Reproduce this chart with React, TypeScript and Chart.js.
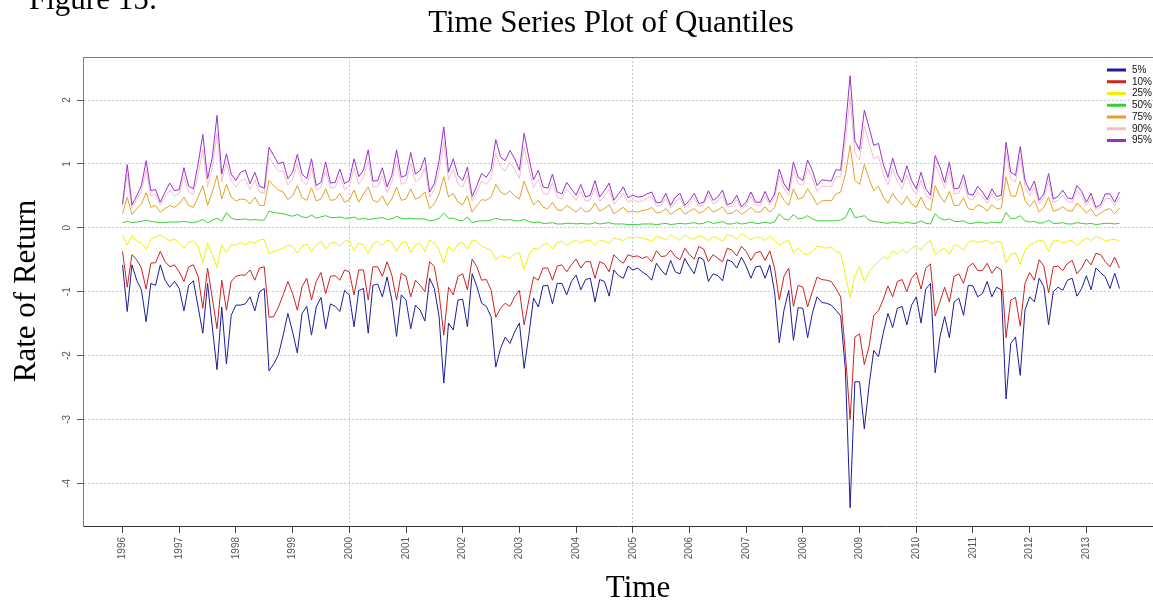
import React, { useEffect, useRef } from "react";
import { Chart, registerables } from "chart.js";

Chart.register(...registerables);

// ---------- data ----------
const START_YEAR = 1996;
const MONTHS_PER_YEAR = 12;
const YEAR_TICKS = [1996, 1997, 1998, 1999, 2000, 2001, 2002, 2003, 2004, 2005, 2006, 2007, 2008, 2009, 2010, 2011, 2012, 2013];
const GRID_YEARS = [2000, 2005, 2010];
const Y_TICKS = [-4, -3, -2, -1, 0, 1, 2];
const SERIES_LABELS = ["5%", "10%", "25%", "50%", "75%", "90%", "95%"];
const SERIES_COLORS = ["#1c1c9a", "#cc2222", "#f0f000", "#36d036", "#e6a024", "#f6bccb", "#9a30cc"];

const P5 = [
  -0.58, -1.31, -0.58, -0.82, -0.97, -1.47, -0.87, -0.9, -0.58, -0.82,
  -0.93, -0.84, -0.95, -1.3, -0.9, -0.83, -1.24, -1.65, -0.87, -1.55,
  -2.22, -1.24, -2.13, -1.37, -1.21, -1.21, -1.19, -1.08, -1.3, -1.0,
  -0.95, -2.24, -2.13, -1.99, -1.68, -1.34, -1.63, -1.96, -1.34, -1.23,
  -1.68, -1.24, -1.09, -1.58, -1.19, -1.23, -1.31, -0.98, -1.05, -1.55,
  -0.98, -0.95, -1.65, -0.9, -0.88, -1.08, -0.77, -1.13, -1.7, -1.05,
  -1.13, -1.58, -1.21, -1.29, -1.46, -0.79, -0.95, -1.39, -2.43, -1.49,
  -1.6, -1.13, -1.12, -1.55, -0.72, -0.92, -1.18, -1.23, -1.39, -2.18,
  -1.89, -1.71, -1.81, -1.63, -1.49, -2.2, -1.68, -1.1, -1.24, -0.91,
  -0.9, -1.19, -0.87, -0.87, -1.05, -0.84, -0.74, -0.97, -0.81, -0.79,
  -1.16, -0.81, -0.84, -1.07, -0.66, -0.75, -0.79, -0.6, -0.66, -0.63,
  -0.69, -0.74, -0.82, -0.555, -0.66, -0.74, -0.51, -0.69, -0.72, -0.48,
  -0.61, -0.72, -0.46, -0.5, -0.84, -0.72, -0.75, -0.83, -0.5, -0.53,
  -0.63, -0.46, -0.6, -0.79, -0.61, -0.6, -0.79, -0.58, -1.0, -1.8,
  -1.29, -0.98, -1.76, -1.25, -1.26, -1.72, -1.34, -1.08, -1.17, -1.18,
  -1.21, -1.29, -1.38, -2.23, -4.38, -2.41, -2.41, -3.15, -2.47, -1.92,
  -2.02, -1.65, -1.34, -1.56, -1.26, -1.23, -1.52, -1.21, -1.08, -1.49,
  -0.96, -0.87, -2.27, -1.71, -1.39, -1.72, -1.16, -1.1, -1.37, -0.9,
  -0.91, -1.08, -1.03, -0.84, -1.08, -0.93, -0.97, -2.68, -1.81, -1.71,
  -2.31, -1.29, -1.08, -1.16, -0.79, -0.92, -1.52, -1.0, -0.93, -0.98,
  -0.82, -0.79, -1.07, -0.95, -0.75, -0.97, -0.63, -0.7, -0.77, -0.95,
  -0.71, -0.95,
];

const P10 = [
  -0.37, -0.93, -0.42, -0.5, -0.63, -0.96, -0.555, -0.545, -0.37, -0.53,
  -0.61, -0.58, -0.69, -0.84, -0.61, -0.58, -0.76, -1.26, -0.63, -1.1,
  -1.58, -0.82, -1.29, -0.84, -0.76, -0.74, -0.74, -0.66, -0.82, -0.63,
  -0.61, -1.4, -1.39, -1.24, -1.05, -0.84, -1.03, -1.29, -0.92, -0.79,
  -1.13, -0.84, -0.7, -1.03, -0.76, -0.75, -0.82, -0.66, -0.69, -1.05,
  -0.66, -0.66, -1.13, -0.61, -0.61, -0.76, -0.53, -0.74, -1.13, -0.71,
  -0.76, -1.08, -0.82, -0.9, -1.0, -0.53, -0.61, -1.03, -1.68, -0.93,
  -1.05, -0.76, -0.72, -0.97, -0.49, -0.61, -0.82, -0.81, -0.97, -1.4,
  -1.26, -1.18, -1.23, -1.08, -0.98, -1.52, -1.13, -0.77, -0.82, -0.63,
  -0.63, -0.82, -0.6, -0.58, -0.69, -0.58, -0.49, -0.63, -0.53, -0.53,
  -0.79, -0.53, -0.565, -0.69, -0.42, -0.5, -0.555, -0.42, -0.45, -0.44,
  -0.48, -0.45, -0.53, -0.36, -0.45, -0.44, -0.35, -0.45, -0.5, -0.32,
  -0.42, -0.49, -0.29, -0.335, -0.53, -0.42, -0.48, -0.53, -0.32, -0.35,
  -0.44, -0.29, -0.37, -0.51, -0.39, -0.37, -0.51, -0.36, -0.63, -1.13,
  -0.76, -0.63, -1.23, -0.9, -0.93, -1.24, -1.0, -0.77, -0.81, -0.82,
  -0.84, -0.95, -1.08, -1.97, -3.0, -1.71, -1.66, -2.14, -1.86, -1.37,
  -1.3, -1.12, -0.91, -1.08, -0.84, -0.81, -1.0, -0.79, -0.7, -0.96,
  -0.63, -0.565, -1.38, -1.16, -0.93, -1.16, -0.76, -0.72, -0.87, -0.61,
  -0.555, -0.67, -0.67, -0.555, -0.71, -0.61, -0.66, -1.72, -1.13, -1.09,
  -1.54, -0.87, -0.7, -0.82, -0.5, -0.6, -1.02, -0.61, -0.6, -0.67,
  -0.555, -0.51, -0.72, -0.63, -0.49, -0.58, -0.4, -0.42, -0.53, -0.61,
  -0.46, -0.63,
];

const P25 = [
  -0.11, -0.27, -0.125, -0.21, -0.24, -0.335, -0.18, -0.14, -0.11, -0.16,
  -0.2, -0.18, -0.23, -0.32, -0.23, -0.2, -0.29, -0.55, -0.24, -0.42,
  -0.62, -0.27, -0.39, -0.27, -0.27, -0.23, -0.27, -0.21, -0.24, -0.19,
  -0.18, -0.41, -0.37, -0.35, -0.32, -0.27, -0.29, -0.4, -0.29, -0.25,
  -0.37, -0.27, -0.21, -0.335, -0.24, -0.23, -0.29, -0.21, -0.2, -0.36,
  -0.24, -0.27, -0.4, -0.25, -0.21, -0.28, -0.19, -0.23, -0.37, -0.24,
  -0.21, -0.39, -0.27, -0.24, -0.37, -0.19, -0.24, -0.35, -0.55, -0.29,
  -0.37, -0.25, -0.23, -0.335, -0.19, -0.21, -0.29, -0.32, -0.35, -0.5,
  -0.44, -0.45, -0.48, -0.41, -0.39, -0.65, -0.42, -0.32, -0.335, -0.27,
  -0.24, -0.335, -0.23, -0.21, -0.27, -0.23, -0.19, -0.24, -0.2, -0.19,
  -0.28, -0.19, -0.21, -0.24, -0.16, -0.18, -0.2, -0.15, -0.16, -0.15,
  -0.16, -0.18, -0.21, -0.14, -0.15, -0.19, -0.11, -0.15, -0.2, -0.11,
  -0.16, -0.18, -0.125, -0.15, -0.2, -0.14, -0.16, -0.21, -0.11, -0.125,
  -0.18, -0.09, -0.14, -0.19, -0.14, -0.15, -0.2, -0.125, -0.2, -0.27,
  -0.23, -0.19, -0.39, -0.32, -0.4, -0.42, -0.37, -0.29, -0.3, -0.32,
  -0.3, -0.37, -0.4, -0.74, -1.09, -0.75, -0.61, -0.84, -0.69, -0.6,
  -0.53, -0.45, -0.49, -0.36, -0.41, -0.335, -0.4, -0.32, -0.28, -0.35,
  -0.25, -0.2, -0.42, -0.36, -0.32, -0.42, -0.27, -0.29, -0.35, -0.23,
  -0.2, -0.23, -0.21, -0.2, -0.25, -0.21, -0.23, -0.55, -0.42, -0.39,
  -0.57, -0.35, -0.27, -0.23, -0.19, -0.21, -0.37, -0.21, -0.2, -0.24,
  -0.21, -0.2, -0.28, -0.21, -0.16, -0.2, -0.14, -0.16, -0.21, -0.19,
  -0.18, -0.21,
];

const P50 = [
  0.08, 0.1, 0.08, 0.09, 0.1, 0.12, 0.1, 0.09, 0.08, 0.085,
  0.09, 0.09, 0.09, 0.1, 0.09, 0.08, 0.1, 0.13, 0.08, 0.12,
  0.15, 0.1, 0.24, 0.15, 0.13, 0.13, 0.14, 0.12, 0.13, 0.12,
  0.12, 0.26, 0.24, 0.23, 0.22, 0.2, 0.18, 0.21, 0.17, 0.16,
  0.2, 0.15, 0.17, 0.19, 0.16, 0.16, 0.17, 0.15, 0.15, 0.17,
  0.13, 0.15, 0.13, 0.14, 0.15, 0.16, 0.13, 0.14, 0.18, 0.15,
  0.14, 0.15, 0.14, 0.14, 0.14, 0.11, 0.12, 0.15, 0.23, 0.15,
  0.15, 0.12, 0.11, 0.17, 0.08, 0.1, 0.11, 0.11, 0.12, 0.15,
  0.13, 0.12, 0.13, 0.11, 0.11, 0.13, 0.1, 0.08, 0.09, 0.07,
  0.07, 0.08, 0.06, 0.06, 0.07, 0.07, 0.06, 0.07, 0.06, 0.06,
  0.08, 0.06, 0.07, 0.08, 0.06, 0.06, 0.06, 0.05, 0.05, 0.05,
  0.06, 0.06, 0.06, 0.05, 0.06, 0.07, 0.05, 0.06, 0.07, 0.06,
  0.07, 0.08, 0.06, 0.07, 0.1, 0.07, 0.08, 0.1, 0.06, 0.06,
  0.08, 0.06, 0.07, 0.09, 0.07, 0.07, 0.09, 0.07, 0.09, 0.22,
  0.14, 0.12, 0.21, 0.14, 0.15, 0.19, 0.14, 0.11, 0.11, 0.11,
  0.11, 0.11, 0.12, 0.16, 0.31, 0.16, 0.17, 0.19, 0.12, 0.1,
  0.09, 0.08, 0.07, 0.09, 0.08, 0.07, 0.09, 0.07, 0.07, 0.11,
  0.07, 0.06, 0.22, 0.15, 0.12, 0.14, 0.1, 0.1, 0.11, 0.07,
  0.07, 0.09, 0.08, 0.07, 0.09, 0.08, 0.08, 0.24, 0.14, 0.15,
  0.19, 0.11, 0.09, 0.1, 0.07, 0.08, 0.12, 0.07, 0.07, 0.08,
  0.06, 0.06, 0.08, 0.07, 0.06, 0.07, 0.05, 0.06, 0.07, 0.07,
  0.06, 0.07,
];

const P75 = [
  0.22, 0.48, 0.21, 0.3, 0.375, 0.55, 0.32, 0.35, 0.245, 0.3,
  0.35, 0.32, 0.375, 0.48, 0.35, 0.32, 0.48, 0.66, 0.35, 0.56,
  0.82, 0.45, 0.68, 0.48, 0.42, 0.45, 0.44, 0.375, 0.48, 0.35,
  0.35, 0.74, 0.66, 0.59, 0.56, 0.44, 0.5, 0.66, 0.47, 0.43,
  0.625, 0.42, 0.45, 0.61, 0.43, 0.44, 0.54, 0.4, 0.44, 0.59,
  0.4, 0.53, 0.64, 0.43, 0.4, 0.5, 0.35, 0.45, 0.64, 0.43,
  0.45, 0.61, 0.45, 0.48, 0.56, 0.3, 0.375, 0.53, 0.8, 0.48,
  0.54, 0.4, 0.36, 0.5, 0.245, 0.35, 0.44, 0.43, 0.48, 0.68,
  0.56, 0.52, 0.58, 0.5, 0.45, 0.73, 0.53, 0.36, 0.43, 0.32,
  0.3, 0.4, 0.28, 0.27, 0.35, 0.3, 0.245, 0.32, 0.245, 0.27,
  0.385, 0.26, 0.3, 0.36, 0.22, 0.27, 0.32, 0.245, 0.26, 0.245,
  0.27, 0.28, 0.32, 0.23, 0.245, 0.3, 0.21, 0.26, 0.31, 0.21,
  0.26, 0.3, 0.23, 0.26, 0.33, 0.245, 0.28, 0.33, 0.22, 0.23,
  0.28, 0.21, 0.26, 0.32, 0.245, 0.245, 0.33, 0.245, 0.32, 0.56,
  0.43, 0.35, 0.61, 0.45, 0.47, 0.61, 0.5, 0.36, 0.42, 0.43,
  0.42, 0.53, 0.56, 0.84, 1.29, 0.74, 0.68, 0.99, 0.77, 0.58,
  0.65, 0.48, 0.385, 0.54, 0.43, 0.36, 0.49, 0.375, 0.32, 0.48,
  0.32, 0.27, 0.66, 0.5, 0.4, 0.57, 0.35, 0.35, 0.47, 0.3,
  0.28, 0.36, 0.33, 0.26, 0.36, 0.3, 0.31, 0.8, 0.5, 0.49,
  0.73, 0.43, 0.33, 0.43, 0.245, 0.32, 0.48, 0.26, 0.28, 0.33,
  0.27, 0.26, 0.385, 0.32, 0.23, 0.3, 0.18, 0.23, 0.28, 0.3,
  0.22, 0.31,
];

const P90 = [
  0.33, 0.84, 0.315, 0.44, 0.575, 0.9, 0.5, 0.525, 0.355, 0.48,
  0.595, 0.5, 0.53, 0.8, 0.56, 0.52, 0.84, 1.22, 0.64, 0.94,
  1.48, 0.72, 1.02, 0.73, 0.64, 0.74, 0.76, 0.6, 0.75, 0.56,
  0.54, 1.1, 0.99, 0.88, 0.89, 0.67, 0.76, 1.0, 0.73, 0.67,
  0.94, 0.59, 0.63, 0.9, 0.62, 0.63, 0.81, 0.6, 0.65, 0.93,
  0.68, 0.79, 1.05, 0.64, 0.64, 0.81, 0.55, 0.71, 1.05, 0.68,
  0.71, 1.01, 0.72, 0.77, 0.94, 0.48, 0.6, 0.89, 1.35, 0.75,
  0.92, 0.69, 0.63, 0.82, 0.42, 0.57, 0.73, 0.68, 0.78, 1.17,
  0.95, 0.89, 1.02, 0.91, 0.77, 1.26, 0.93, 0.63, 0.76, 0.54,
  0.52, 0.71, 0.48, 0.45, 0.6, 0.52, 0.43, 0.57, 0.41, 0.44,
  0.63, 0.41, 0.5, 0.6, 0.37, 0.45, 0.54, 0.4, 0.44, 0.41,
  0.42, 0.46, 0.49, 0.34, 0.35, 0.47, 0.31, 0.41, 0.47, 0.31,
  0.38, 0.47, 0.335, 0.36, 0.505, 0.375, 0.42, 0.51, 0.32, 0.34,
  0.44, 0.295, 0.36, 0.49, 0.355, 0.355, 0.5, 0.355, 0.47, 0.81,
  0.61, 0.51, 0.9, 0.69, 0.66, 0.93, 0.78, 0.57, 0.65, 0.65,
  0.64, 0.8, 0.8, 1.35, 2.05, 1.17, 1.06, 1.59, 1.33, 1.08,
  1.12, 0.84, 0.67, 0.93, 0.72, 0.605, 0.83, 0.63, 0.52, 0.75,
  0.52, 0.44, 0.99, 0.82, 0.62, 0.89, 0.53, 0.54, 0.72, 0.46,
  0.44, 0.56, 0.49, 0.385, 0.535, 0.43, 0.45, 1.18, 0.76, 0.72,
  1.11, 0.65, 0.505, 0.64, 0.375, 0.47, 0.74, 0.395, 0.43, 0.51,
  0.41, 0.395, 0.58, 0.495, 0.35, 0.47, 0.28, 0.32, 0.455, 0.46,
  0.345, 0.485,
];

const P95 = [
  0.375, 0.99, 0.36, 0.5, 0.66, 1.05, 0.58, 0.6, 0.4, 0.56,
  0.7, 0.58, 0.6, 0.94, 0.65, 0.61, 1.0, 1.46, 0.77, 1.1,
  1.76, 0.84, 1.16, 0.84, 0.74, 0.87, 0.9, 0.69, 0.87, 0.65,
  0.62, 1.26, 1.13, 1.0, 1.03, 0.77, 0.87, 1.15, 0.84, 0.77,
  1.08, 0.66, 0.71, 1.03, 0.7, 0.71, 0.92, 0.69, 0.74, 1.08,
  0.8, 0.9, 1.22, 0.73, 0.74, 0.94, 0.64, 0.82, 1.22, 0.79,
  0.82, 1.18, 0.84, 0.9, 1.1, 0.56, 0.69, 1.05, 1.58, 0.87,
  1.08, 0.82, 0.74, 0.95, 0.49, 0.66, 0.85, 0.79, 0.91, 1.38,
  1.11, 1.05, 1.21, 1.08, 0.9, 1.48, 1.1, 0.75, 0.9, 0.64,
  0.62, 0.84, 0.56, 0.53, 0.71, 0.61, 0.51, 0.68, 0.48, 0.51,
  0.74, 0.48, 0.58, 0.7, 0.43, 0.53, 0.64, 0.47, 0.51, 0.48,
  0.49, 0.53, 0.56, 0.39, 0.4, 0.54, 0.35, 0.48, 0.54, 0.35,
  0.43, 0.54, 0.38, 0.4, 0.58, 0.43, 0.48, 0.59, 0.36, 0.39,
  0.51, 0.33, 0.4, 0.56, 0.4, 0.4, 0.57, 0.4, 0.53, 0.92,
  0.69, 0.58, 1.03, 0.79, 0.74, 1.06, 0.9, 0.66, 0.75, 0.74,
  0.73, 0.91, 0.9, 1.57, 2.38, 1.36, 1.22, 1.84, 1.57, 1.29,
  1.32, 1.0, 0.79, 1.09, 0.84, 0.71, 0.97, 0.74, 0.61, 0.87,
  0.61, 0.51, 1.13, 0.95, 0.71, 1.03, 0.61, 0.62, 0.83, 0.53,
  0.51, 0.65, 0.56, 0.44, 0.61, 0.49, 0.51, 1.34, 0.87, 0.82,
  1.27, 0.74, 0.58, 0.73, 0.43, 0.53, 0.85, 0.45, 0.49, 0.59,
  0.47, 0.45, 0.66, 0.57, 0.4, 0.54, 0.32, 0.36, 0.53, 0.53,
  0.4, 0.56,
];

// ---------- styling constants ----------
const GRID_COLOR = "#c9c9c9";
const SERIF = '"Liberation Serif", "Times New Roman", serif';
const SANS = '"Liberation Sans", Arial, sans-serif';

const decorPlugin = {
  id: "decor",
  afterDraw(chart: any) {
    const { ctx, chartArea, scales } = chart;
    ctx.save();

    // top border of the plot box
    ctx.strokeStyle = "#7a7a7a";
    ctx.lineWidth = 1;
    ctx.beginPath();
    ctx.moveTo(chartArea.left, Math.round(chartArea.top) + 0.5);
    ctx.lineTo(chartArea.right, Math.round(chartArea.top) + 0.5);
    ctx.stroke();

    // rotated y tick labels
    ctx.fillStyle = "#555";
    ctx.font = `10px ${SANS}`;
    ctx.textAlign = "center";
    ctx.textBaseline = "middle";
    Y_TICKS.forEach((v) => {
      const y = scales.y.getPixelForValue(v);
      ctx.save();
      ctx.translate(67, y);
      ctx.rotate(-Math.PI / 2);
      ctx.fillText(String(v), 0, 0);
      ctx.restore();
    });

    // legend
    const ds = chart.data.datasets;
    ctx.font = `10px ${SANS}`;
    ctx.textAlign = "left";
    ctx.textBaseline = "middle";
    ds.forEach((d: any, k: number) => {
      const y = 70 + k * 11.75;
      ctx.strokeStyle = d.borderColor;
      ctx.lineWidth = 3;
      ctx.beginPath();
      ctx.moveTo(1107, y);
      ctx.lineTo(1126, y);
      ctx.stroke();
      ctx.fillStyle = "#111";
      ctx.fillText(d.label, 1132, y);
    });

    // titles
    ctx.fillStyle = "#000";
    ctx.textBaseline = "alphabetic";
    ctx.font = `31px ${SERIF}`;
    ctx.textAlign = "left";
    ctx.fillText("Figure 15:", 29, 9);
    ctx.textAlign = "center";
    ctx.fillText("Time Series Plot of Quantiles", 611, 32);
    ctx.fillText("Time", 638, 597);
    ctx.save();
    ctx.translate(35, 291);
    ctx.rotate(-Math.PI / 2);
    ctx.fillText("Rate of Return", 0, 0);
    ctx.restore();

    ctx.restore();
  },
};

export default function App() {
  const ref = useRef<HTMLCanvasElement>(null);

  useEffect(() => {
    const canvas = ref.current;
    if (!canvas) return;
    const series = [P5, P10, P25, P50, P75, P90, P95];
    const datasets = series.map((vals, k) => ({
      label: SERIES_LABELS[k],
      data: vals.map((v, i) => ({ x: START_YEAR + i / MONTHS_PER_YEAR, y: v })),
      borderColor: SERIES_COLORS[k],
      backgroundColor: SERIES_COLORS[k],
      borderWidth: 1,
      pointRadius: 0,
      pointHoverRadius: 0,
      tension: 0,
      fill: false,
      order: series.length - k,
    }));

    const chart = new Chart(canvas, {
      type: "line",
      data: { datasets },
      options: {
        responsive: false,
        maintainAspectRatio: false,
        devicePixelRatio: 1,
        animation: false,
        events: [],
        layout: { padding: { top: 57, left: 0, right: 0, bottom: 0 } },
        plugins: {
          legend: { display: false },
          tooltip: { enabled: false },
          title: { display: false },
        },
        scales: {
          x: {
            type: "linear",
            min: 1995.303,
            max: 2014.175,
            afterBuildTicks: (s: any) => {
              s.ticks = YEAR_TICKS.map((v) => ({ value: v }));
            },
            afterFit: (s: any) => {
              s.height = 79;
            },
            ticks: {
              autoSkip: false,
              minRotation: 90,
              maxRotation: 90,
              padding: 4,
              color: "#555",
              font: { family: SANS, size: 10 },
              callback: (v: any) => String(v),
            },
            grid: {
              color: (c: any) =>
                c.tick && GRID_YEARS.includes(c.tick.value) ? GRID_COLOR : "rgba(0,0,0,0)",
              tickColor: "#444",
              tickLength: 7,
              lineWidth: 1,
            },
            border: { display: true, color: "#333", width: 1, dash: [2, 2] },
          },
          y: {
            type: "linear",
            min: -4.667,
            max: 2.673,
            afterBuildTicks: (s: any) => {
              s.ticks = Y_TICKS.map((v) => ({ value: v }));
            },
            afterFit: (s: any) => {
              s.width = 83;
            },
            ticks: {
              color: "rgba(0,0,0,0)",
              font: { family: SANS, size: 10 },
              padding: 4,
              callback: (v: any) => String(v),
            },
            grid: {
              color: GRID_COLOR,
              tickColor: "#555",
              tickLength: 6,
              lineWidth: 1,
            },
            border: { display: true, color: "#7a7a7a", width: 1, dash: [2, 2] },
          },
        },
      },
      plugins: [decorPlugin],
    } as any);

    return () => chart.destroy();
  }, []);

  return (
    <div
      style={{
        position: "absolute",
        left: 0,
        top: 0,
        width: 1153,
        height: 605,
        background: "#fff",
        overflow: "hidden",
      }}
    >
      <canvas ref={ref} width={1153} height={605} style={{ display: "block" }} />
    </div>
  );
}
